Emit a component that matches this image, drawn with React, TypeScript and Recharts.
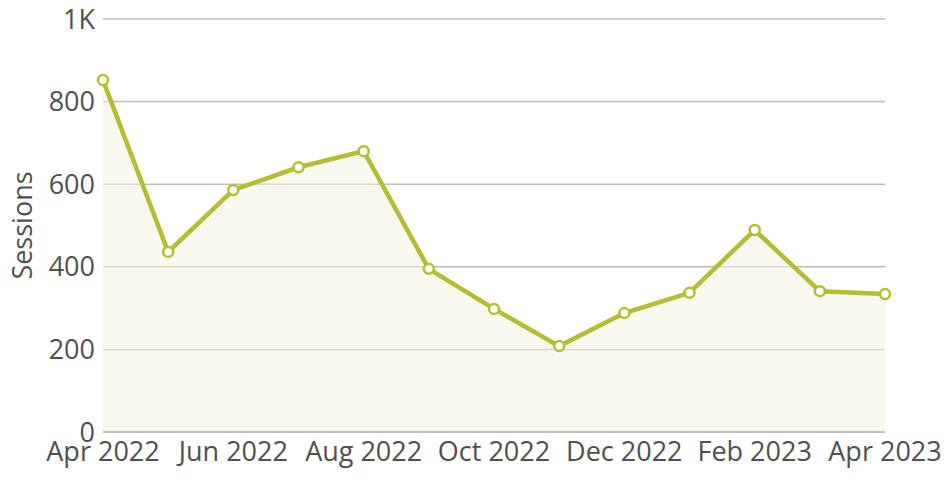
import { ComposedChart, Area, Line, XAxis, YAxis, CartesianGrid } from "recharts";

const months = [
  "Apr 2022", "May 2022", "Jun 2022", "Jul 2022", "Aug 2022", "Sep 2022", "Oct 2022",
  "Nov 2022", "Dec 2022", "Jan 2023", "Feb 2023", "Mar 2023", "Apr 2023",
];
const sessions = [852, 436, 586, 641, 680, 395, 298, 208, 288, 337, 489, 341, 334];
const yTicks = [0, 200, 400, 600, 800, 1000];

const LINE = "#b6bd32";
const TEXT = "#505050";
const FONT = "'Open Sans', sans-serif";

const data = months.map((m, i) => ({ month: m, sessions: sessions[i] }));

function fmtY(v: number) {
  return v >= 1000 ? `${v / 1000}K` : `${v}`;
}

export default function App() {
  return (
    <div style={{ position: "absolute", left: 0, top: 0, width: 946, height: 480, background: "#fff" }}>
      <ComposedChart
        width={946}
        height={480}
        data={data}
        margin={{ top: 19, right: 61, left: 0, bottom: 0 }}
        style={{ fontFamily: FONT }}
      >
        <CartesianGrid vertical={false} stroke="#bdbdbd" strokeWidth={1.5} />
        <XAxis
          dataKey="month"
          interval={1}
          height={48}
          tickSize={0}
          tickMargin={10}
          axisLine={{ stroke: "#bdbdbd", strokeWidth: 1.5 }}
          tick={{ fill: TEXT, fontSize: 27, fontFamily: FONT }}
        />
        <YAxis
          width={103}
          domain={[0, 1000]}
          ticks={yTicks}
          tickFormatter={fmtY}
          tickSize={0}
          tickMargin={8}
          axisLine={false}
          tick={{ fill: TEXT, fontSize: 27, fontFamily: FONT }}
          label={{
            value: "Sessions",
            angle: -90,
            position: "center",
            dx: -29,
            fill: TEXT,
            fontSize: 27,
            fontFamily: FONT,
          }}
        />
        <Area
          type="linear"
          dataKey="sessions"
          stroke="none"
          fill="#f1f1de"
          fillOpacity={0.5}
          isAnimationActive={false}
          activeDot={false}
        />
        <Line
          type="linear"
          dataKey="sessions"
          stroke={LINE}
          strokeWidth={4.5}
          dot={{ r: 5, fill: "#fff", stroke: LINE, strokeWidth: 2.5 }}
          activeDot={false}
          isAnimationActive={false}
        />
      </ComposedChart>
    </div>
  );
}
